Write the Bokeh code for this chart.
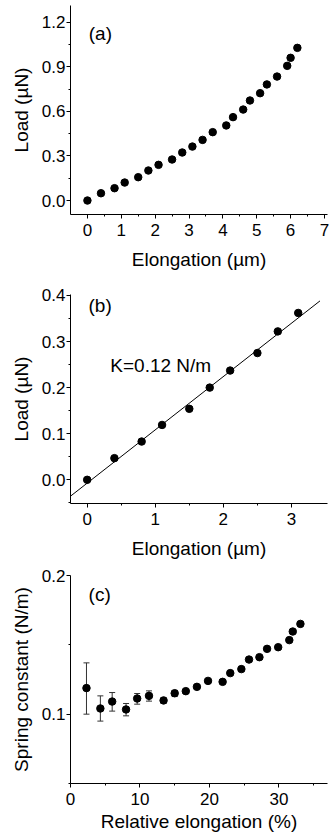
from bokeh.plotting import figure
from bokeh.layouts import column
from bokeh.models import (Range1d, FixedTicker, NumeralTickFormatter, Label,
                          ColumnDataSource, Whisker, TeeHead)
from bokeh.embed import file_html
from bokeh.resources import INLINE

FONT = "Liberation Sans"

# ---- Panel (a) data ----
a_elong = [0.0, 0.4, 0.8, 1.1, 1.5, 1.8, 2.1, 2.5, 2.8, 3.1, 3.4, 3.7, 4.1, 4.3,
           4.6, 4.8, 5.1, 5.3, 5.6, 5.9, 6.0, 6.2]
a_load = [0.0, 0.049, 0.083, 0.121, 0.157, 0.202, 0.240, 0.276, 0.323, 0.363,
          0.408, 0.460, 0.505, 0.561, 0.612, 0.673, 0.722, 0.781, 0.834, 0.906,
          0.960, 1.027]
a_xticks = [0, 1, 2, 3, 4, 5, 6, 7]
a_yticks = [0.0, 0.3, 0.6, 0.9, 1.2]

# ---- Panel (b) data ----
b_elong = [0.0, 0.4, 0.8, 1.1, 1.5, 1.8, 2.1, 2.5, 2.8, 3.1]
b_load = [0.0, 0.047, 0.083, 0.119, 0.154, 0.200, 0.237, 0.275, 0.322, 0.362]
b_fit_slope = 0.1156
b_fit_intercept = -0.0072
b_fit_x = [-0.245, 3.42]
b_xticks = [0, 1, 2, 3]
b_yticks = [0.0, 0.1, 0.2, 0.3, 0.4]

# ---- Panel (c) data ----
c_rel = [2.3, 4.3, 6.0, 8.0, 9.6, 11.3, 13.4, 15.0, 16.6, 18.2, 19.8, 21.9,
         23.0, 24.6, 25.7, 27.2, 28.3, 29.9, 31.5, 32.0, 33.1]
c_k = [0.1188, 0.1041, 0.1091, 0.1034, 0.1113, 0.1132, 0.1099, 0.1151, 0.1166,
       0.1197, 0.1240, 0.1233, 0.1296, 0.1325, 0.1394, 0.1411, 0.1471, 0.1483,
       0.1534, 0.1596, 0.1651]
c_upper = [0.137, 0.1132, 0.1156, 0.1077, 0.1149, 0.1168, 0.1118, 0.1171, 0.118,
           0.121, 0.1253, 0.1246, 0.1309, 0.1338, 0.1407, 0.1424, 0.1484, 0.1496,
           0.1547, 0.1609, 0.1664]
c_lower = [0.100, 0.095, 0.1022, 0.0988, 0.1072, 0.1094, 0.1079, 0.1127, 0.1152,
           0.1184, 0.1227, 0.1220, 0.1283, 0.1312, 0.1381, 0.1398, 0.1458, 0.1470,
           0.1521, 0.1583, 0.1638]
c_xticks = [0, 10, 20, 30]
c_yticks = [0.1, 0.2]


def style(p, xticks, xminor, yticks, yminor, xfmt, yfmt, xlabel, ylabel):
    p.outline_line_color = None
    p.xgrid.visible = False
    p.ygrid.visible = False
    p.background_fill_color = None
    p.border_fill_color = None
    p.xaxis.ticker = FixedTicker(ticks=xticks, minor_ticks=xminor)
    p.yaxis.ticker = FixedTicker(ticks=yticks, minor_ticks=yminor)
    p.xaxis.formatter = NumeralTickFormatter(format=xfmt)
    p.yaxis.formatter = NumeralTickFormatter(format=yfmt)
    p.xaxis.axis_label = xlabel
    p.yaxis.axis_label = ylabel
    for ax in (p.xaxis, p.yaxis):
        ax.axis_line_color = "black"
        ax.axis_line_width = 1
        ax.major_tick_line_color = "black"
        ax.minor_tick_line_color = "black"
        ax.major_tick_in = 0
        ax.major_tick_out = 4
        ax.minor_tick_in = 0
        ax.minor_tick_out = 2
        ax.major_label_text_font = FONT
        ax.major_label_text_font_size = "17px"
        ax.major_label_text_color = "black"
        ax.axis_label_text_font = FONT
        ax.axis_label_text_font_size = "19px"
        ax.axis_label_text_font_style = "normal"
        ax.axis_label_text_color = "black"
    p.xaxis.major_label_standoff = 5
    p.yaxis.major_label_standoff = 1
    p.xaxis.axis_label_standoff = 10
    p.yaxis.axis_label_standoff = 7


W = 329

# ---- Figure (a) ----
fa = figure(width=W, height=280, output_backend="svg", toolbar_location=None,
            x_range=Range1d(-0.5, 7.09), y_range=Range1d(-0.094, 1.312),
            min_border_left=70, min_border_right=2, min_border_top=5,
            min_border_bottom=66)
style(fa, a_xticks, [0.5 + i for i in range(7)], a_yticks, [0.15, 0.45, 0.75, 1.05],
      "0", "0.0", "Elongation (µm)", "Load (µN)")
fa.scatter(a_elong, a_load, size=7.5, color="black")
fa.add_layout(Label(x=0.04, y=1.124, text="(a)", text_baseline="middle",
                    text_font=FONT, text_font_size="19px", text_color="black"))

# ---- Figure (b) ----
fb = figure(width=W, height=282, output_backend="svg", toolbar_location=None,
            x_range=Range1d(-0.245, 3.53), y_range=Range1d(-0.0514, 0.402),
            min_border_left=70, min_border_right=2, min_border_top=14,
            min_border_bottom=59)
style(fb, b_xticks, [0.5, 1.5, 2.5], b_yticks, [-0.05, 0.05, 0.15, 0.25, 0.35],
      "0", "0.0", "Elongation (µm)", "Load (µN)")
fit_y = [b_fit_slope * x + b_fit_intercept for x in b_fit_x]
fb.line(b_fit_x, fit_y, line_color="black", line_width=1)
fb.scatter(b_elong, b_load, size=7.5, color="black")
fb.add_layout(Label(x=0.02, y=0.378, text="(b)", text_baseline="middle",
                    text_font=FONT, text_font_size="19px", text_color="black"))
fb.add_layout(Label(x=0.34, y=0.248, text="K=0.12 N/m", text_baseline="middle",
                    text_font=FONT, text_font_size="19px", text_color="black"))

# ---- Figure (c) ----
fc = figure(width=W, height=276, output_backend="svg", toolbar_location=None,
            x_range=Range1d(0, 37.0), y_range=Range1d(0.05, 0.2),
            min_border_left=70, min_border_right=2, min_border_top=13,
            min_border_bottom=55)
style(fc, c_xticks, [5, 15, 25, 35], c_yticks, [0.05, 0.15],
      "0", "0.0", "Relative elongation (%)", "Spring constant (N/m)")
fc.xaxis.axis_label_standoff = 3
src = ColumnDataSource(dict(x=c_rel, y=c_k, up=c_upper, lo=c_lower))
wh = Whisker(base="x", upper="up", lower="lo", source=src,
             line_color="#333333", line_width=1,
             upper_head=TeeHead(size=6, line_color="#333333", line_width=1),
             lower_head=TeeHead(size=6, line_color="#333333", line_width=1))
fc.add_layout(wh)
fc.scatter("x", "y", source=src, size=7.5, color="black")
fc.add_layout(Label(x=2.6, y=0.186, text="(c)", text_baseline="middle",
                    text_font=FONT, text_font_size="19px", text_color="black"))

layout = column(fa, fb, fc, spacing=0)
open("out.html", "w").write(file_html(layout, INLINE))
